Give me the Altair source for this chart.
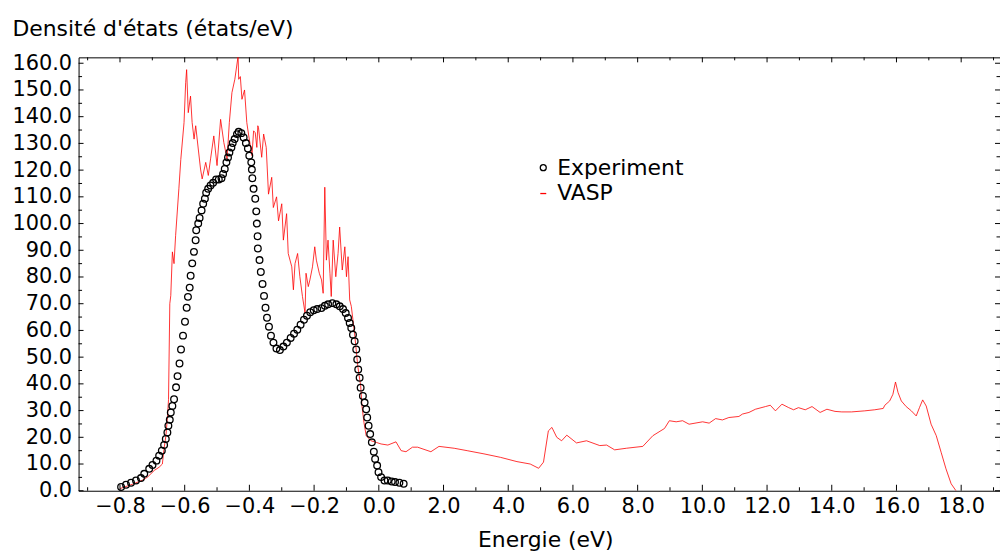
import altair as alt
import pandas as pd

# Experiment (open circles)
exp_x = [-7.966, -7.813, -7.659, -7.505, -7.352, -7.250, -7.097, -6.995, -6.873, -6.790,
         -6.707, -6.636, -6.584, -6.535, -6.504, -6.461, -6.430, -6.381, -6.329, -6.267,
         -6.221, -6.160, -6.114, -6.052, -5.991, -5.939, -5.899, -5.846, -5.816, -5.767,
         -5.714, -5.662, -5.644, -5.582, -5.539, -5.478, -5.429, -5.376, -5.336, -5.275,
         -5.201, -5.121, -5.029, -4.946, -4.863, -4.814, -4.762, -4.710, -4.661, -4.618,
         -4.556, -4.516, -4.455, -4.384, -4.332, -4.249, -4.178, -4.108, -4.046, -4.003,
         -3.942, -3.923, -3.908, -3.871, -3.819, -3.788, -3.770, -3.748, -3.739, -3.687,
         -3.647, -3.594, -3.548, -3.502, -3.456, -3.395, -3.333, -3.257, -3.164, -3.057,
         -2.949, -2.842, -2.725, -2.621, -2.519, -2.418, -2.313, -2.221, -2.120, -2.012,
         -1.905, -1.773, -1.668, -1.567, -1.435, -1.312, -1.207, -1.106, -1.023, -0.952,
         -0.900, -0.851, -0.799, -0.747, -0.697, -0.667, -0.636, -0.593, -0.562, -0.492,
         -0.439, -0.390, -0.359, -0.316, -0.267, -0.215, -0.154, -0.114, -0.052, -0.009,
         0.071, 0.175, 0.277, 0.399, 0.501, 0.636, 0.768]
exp_y = [1.38, 2.23, 2.98, 3.83, 4.73, 6.33, 8.19, 9.67, 11.27, 13.13,
         15.0, 17.12, 19.35, 21.84, 24.3, 26.53, 29.28, 31.74, 34.23, 38.7,
         42.9, 47.63, 52.84, 58.05, 63.26, 68.47, 72.56, 76.02, 80.48, 85.1,
         89.4, 93.77, 97.49, 99.98, 102.07, 104.93, 107.42, 109.28, 111.52, 113.0,
         114.23, 115.24, 116.47, 116.47, 116.95, 118.58, 120.45, 122.9, 124.76, 126.62,
         128.48, 130.12, 131.61, 133.47, 134.33, 133.84, 132.2, 130.12, 128.11, 125.4,
         122.9, 120.19, 116.95, 113.0, 109.28, 104.56, 99.98, 95.26, 90.68, 86.33,
         81.86, 77.4, 72.93, 68.47, 64.74, 61.4, 58.05, 55.44, 53.21, 52.65,
         53.95, 55.44, 57.19, 58.79, 60.28, 62.14, 64.0, 65.49, 66.79, 67.53,
         67.98, 68.35, 69.21, 69.77, 70.21, 69.77, 69.02, 67.98, 66.49, 64.63,
         62.77, 60.91, 58.42, 55.93, 52.84, 49.12, 45.40, 42.31, 38.59, 35.46,
         33.0, 30.51, 27.42, 24.3, 21.21, 18.12, 14.62, 11.91, 9.41, 6.96,
         5.10, 3.83, 3.83, 3.46, 3.24, 2.98, 2.6]

# VASP (red line)
vasp_x = [-8.00, -7.60, -7.30, -7.15, -6.94, -6.79, -6.69, -6.64, -6.58, -6.53,
          -6.50, -6.46, -6.43, -6.38, -6.33, -6.28, -6.18, -6.12, -6.02, -5.97,
          -5.94, -5.89, -5.82, -5.77, -5.71, -5.66, -5.58, -5.51, -5.46, -5.35,
          -5.27, -5.20, -5.10, -5.00, -4.89, -4.79, -4.69, -4.62, -4.54, -4.45,
          -4.35, -4.33, -4.28, -4.23, -4.15, -4.08, -4.02, -3.92, -3.87, -3.82,
          -3.77, -3.74, -3.72, -3.62, -3.56, -3.48, -3.41, -3.31, -3.26, -3.16,
          -3.10, -3.00, -2.95, -2.85, -2.80, -2.69, -2.64, -2.59, -2.51, -2.44,
          -2.36, -2.28, -2.25, -2.18, -2.13, -2.05, -1.98, -1.93, -1.84, -1.77,
          -1.72, -1.67, -1.62, -1.57, -1.51, -1.47, -1.41, -1.33, -1.26, -1.21,
          -1.13, -1.05, -1.00, -0.95, -0.90, -0.85, -0.80, -0.75, -0.70, -0.65,
          -0.56, -0.52, -0.46, -0.39, -0.24, -0.08, 0.07, 0.28, 0.53, 0.69,
          0.84, 1.04, 1.20, 1.61, 1.86, 2.33, 2.73, 3.25, 3.76, 4.27,
          4.68, 4.94, 5.09, 5.24, 5.35, 5.50, 5.65, 5.81, 6.11, 6.42,
          6.83, 7.04, 7.29, 7.65, 8.16, 8.47, 8.83, 8.98, 9.19, 9.39,
          9.59, 10.01, 10.21, 10.41, 10.62, 10.82, 11.13, 11.24, 11.44, 11.64,
          11.95, 12.10, 12.26, 12.46, 12.67, 12.82, 12.97, 13.18, 13.39, 13.64,
          13.85, 14.10, 14.31, 14.61, 15.02, 15.33, 15.59, 15.64, 15.79, 15.89,
          15.97, 16.05, 16.15, 16.30, 16.46, 16.61, 16.71, 16.81, 16.92, 17.07,
          17.23, 17.38, 17.53, 17.69, 17.84]
vasp_y = [0.8, 2.5, 4.0, 5.1, 7.6, 8.8, 10.0, 15.6, 20.6, 28.0,
          34.2, 70.0, 73.0, 89.4, 85.0, 95.6, 113.0, 124.0, 137.8, 152.7,
          157.6, 141.5, 147.7, 137.8, 131.6, 136.6, 127.9, 120.4, 116.7, 122.9,
          118.0, 124.2, 132.8, 121.7, 139.0, 130.3, 124.2, 137.8, 149.0, 154.0,
          162.6, 154.0, 155.0, 146.5, 150.0, 137.8, 132.8, 125.4, 134.7, 134.0,
          128.5, 136.6, 136.0, 124.8, 133.5, 128.5, 111.0, 117.3, 106.0, 110.0,
          101.0, 107.4, 93.8, 103.7, 88.8, 83.8, 75.2, 85.0, 88.8, 80.1,
          72.7, 66.5, 81.4, 76.4, 78.9, 83.8, 91.3, 86.3, 81.4, 78.9,
          73.9, 113.6, 86.3, 93.8, 81.4, 72.7, 93.8, 80.1, 88.8, 98.7,
          82.6, 91.3, 80.1, 87.6, 71.4, 69.0, 64.0, 59.0, 52.8, 46.6,
          39.2, 31.7, 25.6, 20.6, 18.7, 18.1, 17.5, 17.1, 18.3, 15.0,
          14.6, 16.3, 16.3, 14.6, 16.6, 15.9, 15.0, 13.8, 12.5, 10.9,
          10.0, 8.4, 10.7, 22.4, 23.7, 20.0, 18.7, 20.8, 17.9, 18.7,
          16.9, 17.1, 15.3, 15.9, 16.6, 20.6, 23.3, 26.2, 25.8, 26.2,
          24.9, 25.8, 25.3, 27.0, 26.5, 27.4, 27.8, 28.7, 29.3, 30.5,
          31.5, 32.0, 29.9, 32.4, 31.1, 30.3, 31.1, 30.3, 31.5, 29.3,
          30.5, 29.7, 29.5, 29.5, 29.9, 30.3, 30.8, 32.0, 33.6, 36.1,
          40.7, 36.7, 33.6, 31.5, 29.9, 28.0, 31.1, 34.0, 31.7, 24.9,
          20.6, 14.4, 8.2, 2.6, 0.0]

series = ["Experiment", "VASP"]
x_major = list(range(-8, 19, 2))
x_minor = list(range(-9, 20, 2))
y_major = list(range(0, 161, 10))
y_minor = list(range(5, 161, 10))

FONT = "DejaVu Sans"
W, H = 927, 436

xscale = alt.Scale(domain=[-9.28, 19.20], nice=False, zero=False)
yscale = alt.Scale(domain=[0, 162.2], nice=False, zero=False)

xaxis = alt.Axis(
    values=x_major,
    labelExpr="datum.value < 0 ? format(datum.value/10, '.1f') : format(datum.value, '.1f')",
    ticks=False, domain=False, grid=False, labelPadding=5, labelFontSize=21, labelFont=FONT,
    labelColor="black", titleFont=FONT, titleFontSize=22,
    titleFontWeight="normal", titleColor="black", titleX=469.5, titleY=56,
    titleAlign="center", titleBaseline="alphabetic", labelFlush=False, labelOverlap=False)
yaxis = alt.Axis(
    values=y_major, format=".1f", ticks=False, domain=False, grid=False, labelPadding=7,
    labelFontSize=21, labelFont=FONT, labelColor="black",
    titleFont=FONT, titleFontSize=22,
    titleFontWeight="normal", titleColor="black", titleAngle=0, titleX=-67, titleY=-21.7,
    titleAlign="left", titleBaseline="alphabetic", labelFlush=False, labelOverlap=False)
XT = "Energie (eV)"
YT = "Densité d'états (états/eV)"

exp_df = pd.DataFrame({"x": exp_x, "y": exp_y, "series": "Experiment"})
vasp_df = pd.DataFrame({"x": vasp_x, "y": vasp_y})

line = alt.Chart(vasp_df).mark_line(color="#ff0000", strokeWidth=0.8, clip=True).encode(
    x=alt.X("x:Q", scale=xscale, axis=xaxis, title=XT),
    y=alt.Y("y:Q", scale=yscale, axis=yaxis, title=YT),
    order=alt.Order("x:Q"),
)

leg = alt.Legend(orient="none", legendX=456.5, legendY=100, padding=0,
                 labelFont=FONT, labelFontSize=22, labelColor="black",
                 symbolSize=36, symbolStrokeWidth=1.3, labelOffset=3, rowPadding=4)

points = alt.Chart(exp_df).mark_point(filled=False, size=45, strokeWidth=1.3, opacity=1).encode(
    x=alt.X("x:Q", scale=xscale, axis=xaxis, title=XT),
    y=alt.Y("y:Q", scale=yscale, axis=yaxis, title=YT),
    color=alt.Color("series:N", scale=alt.Scale(domain=series, range=["black", "#ff0000"]),
                    title=None, legend=leg),
    shape=alt.Shape("series:N", scale=alt.Scale(domain=series, range=["circle", "M-1,0H1"]),
                    title=None, legend=leg),
)

xmaj = pd.DataFrame({"x": x_major})
xmin = pd.DataFrame({"x": x_minor})
ymaj = pd.DataFrame({"y": y_major})
ymin = pd.DataFrame({"y": y_minor})

def xticks(df, y0, y1):
    return alt.Chart(df).mark_rule(color="black", strokeWidth=1).encode(
        x=alt.X("x:Q", scale=xscale, axis=xaxis, title=XT), y=alt.value(y0), y2=alt.value(y1))

def yticks(df, x0, x1):
    return alt.Chart(df).mark_rule(color="black", strokeWidth=1).encode(
        y=alt.Y("y:Q", scale=yscale, axis=yaxis, title=YT), x=alt.value(x0), x2=alt.value(x1))

ticks = [
    xticks(xmaj, H, H - 6), xticks(xmin, H, H - 3.5),
    xticks(xmaj, 0, 5), xticks(xmin, 0, 3),
    yticks(ymaj, 0, 5), yticks(ymin, 0, 3.5),
    yticks(ymaj, W, W - 5), yticks(ymin, W, W - 3.5),
]

chart = alt.layer(line, points, *ticks).properties(
    width=W, height=H,
    autosize=alt.AutoSizeParams(type="none"),
    padding={"left": 71, "top": 48, "right": 0, "bottom": 64},
    background="white",
).configure_view(stroke="black", strokeWidth=1)

chart.save("out.html", embed_options={"renderer": "svg", "actions": False})
